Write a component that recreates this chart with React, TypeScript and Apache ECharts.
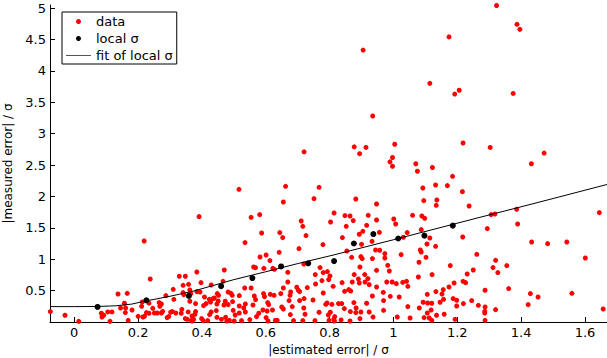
import React, { useEffect, useRef } from "react";
import * as echarts from "echarts";

const xMin = -0.076;
const xMax = 1.669;
const yMin = 0;
const yMax = 5.048;

const xTickStep = 0.2;
const yTickStep = 0.5;

const legendNames = ["data", "local σ", "fit of local σ"];
const xAxisTitle = "|estimated error| / σ";
const yAxisTitle = "|measured error| / σ";

// red scatter: [|estimated error|/σ, |measured error|/σ]
const dataPoints: [number, number][] = [
  [0.72, 2.71], [0.905, 4.33], [1.323, 5.04], [1.387, 4.74], [1.396, 4.66], [1.174, 4.54],
  [1.114, 3.8], [1.206, 3.69], [1.192, 3.63], [1.375, 3.64], [0.935, 3.28], [0.877, 2.79],
  [0.914, 2.78], [0.894, 2.68], [1.004, 2.83], [0.997, 2.62], [0.989, 2.55], [0.997, 2.48],
  [1.07, 2.52], [1.075, 2.4], [1.122, 2.46], [1.185, 2.32], [1.218, 2.85], [1.303, 2.78],
  [1.432, 2.52], [1.472, 2.69],
  [0.219, 1.29], [0.238, 0.685], [0.137, 0.446], [0.166, 0.457], [-0.075, 0.166], [-0.029, 0.107],
  [0.014, 0.01], [0.085, 0.139], [0.092, 0.107], [0.087, 0.08], [0.105, 0.16], [0.118, 0.16],
  [0.112, 0.01], [0.145, 0.223], [0.157, 0.298], [0.161, 0.223], [0.16, 0.15], [0.181, 0.191],
  [0.169, 0.027], [0.2, 0.09], [0.211, 0.25], [0.213, 0.318], [0.215, 0.08], [0.22, 0.09],
  [0.226, 0.15], [0.234, 0.3], [0.234, 0.139], [0.246, 0.218], [0.251, 0.143], [0.26, 0.143],
  [0.266, 0.309], [0.268, 0.25], [0.273, 0.287], [0.277, 0.17], [0.273, 0.143], [0.287, 0.42],
  [0.291, 0.07], [0.296, 0.086], [0.302, 0.155], [0.307, 0.166], [0.31, 0.52], [0.312, 0.361],
  [0.318, 0.143], [0.329, 0.728], [0.348, 0.728], [0.341, 0.584], [0.341, 0.468], [0.343, 0.436],
  [0.337, 0.202], [0.335, 0.139], [0.348, 0.054], [0.354, 0.043], [0.358, 0.6], [0.362, 0.51],
  [0.362, 0.33], [0.357, 0.16], [0.369, 0.096], [0.369, 0.016],
  [0.516, 2.113], [0.662, 2.161], [0.767, 2.145], [0.751, 1.965], [0.655, 1.911], [0.391, 1.678],
  [0.554, 1.667], [0.581, 1.71], [0.711, 1.608], [0.716, 1.524], [0.803, 1.592], [0.814, 1.736],
  [0.726, 1.376], [0.587, 1.417], [0.644, 1.424], [0.653, 1.344], [0.535, 1.264], [0.704, 1.169],
  [0.779, 1.233], [0.642, 1.11], [0.582, 1.035], [0.601, 1.067], [0.613, 0.978], [0.562, 0.876],
  [0.568, 0.866], [0.594, 0.855], [0.622, 0.855], [0.627, 0.839], [0.47, 0.828], [0.384, 0.796],
  [0.466, 0.648], [0.397, 0.627], [0.429, 0.589], [0.669, 0.791], [0.719, 0.924], [0.77, 0.866],
  [0.78, 0.787], [0.793, 0.803], [0.755, 0.755], [0.801, 0.733], [0.776, 0.659], [0.797, 0.675],
  [0.756, 0.605], [0.811, 0.568], [0.669, 0.637], [0.655, 0.541], [0.697, 0.553], [0.702, 0.505],
  [0.706, 0.484], [0.73, 0.548], [0.678, 0.478], [0.647, 0.452], [0.78, 0.462], [0.792, 0.303],
  [0.788, 0.282], [0.807, 0.282], [0.748, 0.35], [0.72, 0.373], [0.706, 0.341], [0.673, 0.341],
  [0.719, 0.223], [0.683, 0.245], [0.65, 0.239], [0.655, 0.207], [0.677, 0.118], [0.687, 0.022],
  [0.63, 0.027], [0.636, 0.027], [0.607, 0.016], [0.601, 0.07], [0.591, 0.191], [0.604, 0.175],
  [0.606, 0.309], [0.609, 0.277], [0.596, 0.404], [0.593, 0.452], [0.614, 0.441], [0.626, 0.425],
  [0.564, 0.414], [0.568, 0.357], [0.56, 0.271], [0.536, 0.287], [0.531, 0.223], [0.536, 0.159],
  [0.517, 0.143], [0.504, 0.111], [0.501, 0.016], [0.55, 0.038], [0.534, 0.541], [0.554, 0.541],
  [0.517, 0.42], [0.495, 0.425], [0.482, 0.478], [0.491, 0.457], [0.496, 0.325], [0.473, 0.33],
  [0.469, 0.271], [0.482, 0.277], [0.498, 0.186], [0.474, 0.075], [0.478, 0.016], [0.461, 0.043],
  [0.447, 0.075], [0.429, 0.159], [0.424, 0.118], [0.445, 0.182], [0.447, 0.287], [0.451, 0.334],
  [0.427, 0.318], [0.423, 0.361], [0.413, 0.293], [0.405, 0.261], [0.439, 0.382], [0.452, 0.425],
  [0.448, 0.452], [0.435, 0.373], [0.38, 0.293], [0.38, 0.166], [0.378, 0.123], [0.374, 0.043],
  [0.399, 0.054], [0.404, 0.022], [0.367, 0.027], [0.418, 0.022], [0.394, 0.478], [0.365, 0.452],
  [0.384, 0.484], [0.408, 0.398], [0.517, 0.255], [0.486, 0.027], [0.524, 0.022], [0.571, 0.086],
  [0.578, 0.139], [0.621, 0.191], [0.723, 0.123], [0.716, 0.022], [0.767, 0.155], [0.796, 0.111],
  [0.798, 0.027], [0.802, 0.155], [0.754, 0.022], [0.813, 0.043], [0.676, 0.425],
  [1.092, 2.134], [1.132, 2.182], [1.169, 2.172], [1.216, 2.076], [1.095, 1.933], [1.136, 1.943],
  [1.134, 1.858], [1.237, 1.847], [0.882, 1.959], [0.947, 1.879], [0.848, 1.694], [0.864, 1.688],
  [0.874, 1.615], [0.852, 1.524], [0.921, 1.699], [0.947, 1.624], [1.001, 1.64], [1.06, 1.699],
  [1.089, 1.688], [1.098, 1.651], [1.007, 1.561], [0.916, 1.54], [0.904, 1.444], [0.893, 1.397],
  [0.84, 1.344], [0.956, 1.428], [1.043, 1.424], [1.031, 1.349], [1.087, 1.471], [1.114, 1.338],
  [1.217, 1.354], [1.105, 1.242], [1.132, 1.205], [0.9, 1.237], [0.933, 1.285], [0.854, 1.131],
  [0.944, 1.147], [0.957, 1.142], [0.973, 1.089], [1.024, 1.073], [1.084, 1.147], [1.087, 1.115],
  [1.102, 1.03], [1.08, 0.951], [1.178, 0.898], [1.25, 0.828], [0.869, 1.03], [0.898, 1.041],
  [0.902, 1.01], [0.934, 1.01], [0.973, 1.019], [0.982, 0.903], [0.987, 0.812], [0.895, 0.876],
  [0.877, 0.755], [0.89, 0.685], [0.91, 0.755], [0.92, 0.691], [0.947, 0.823], [0.839, 0.627],
  [0.871, 0.637], [0.893, 0.621], [0.911, 0.637], [0.924, 0.595], [0.947, 0.557], [0.979, 0.637],
  [0.996, 0.637], [1.009, 0.611], [1.029, 0.632], [1.041, 0.648], [1.045, 0.568], [1.121, 0.755],
  [1.078, 0.717], [1.19, 0.621], [1.218, 0.648], [1.226, 0.627], [1.231, 0.764], [1.174, 0.557],
  [1.156, 0.516], [1.152, 0.446], [1.133, 0.484], [1.106, 0.441], [0.847, 0.489], [0.86, 0.516],
  [0.866, 0.494], [0.934, 0.414], [0.968, 0.473], [0.99, 0.409], [1.018, 0.398], [0.969, 0.341],
  [0.828, 0.293], [0.846, 0.213], [0.865, 0.166], [0.882, 0.15], [0.898, 0.159], [0.924, 0.159],
  [0.936, 0.08], [0.969, 0.186], [1.045, 0.245], [1.081, 0.223], [1.093, 0.314], [1.107, 0.303],
  [1.12, 0.298], [1.118, 0.191], [1.106, 0.143], [1.135, 0.107], [1.146, 0.314], [1.157, 0.361],
  [1.159, 0.123], [1.187, 0.373], [1.198, 0.346], [1.219, 0.293], [1.245, 0.341], [1.198, 0.255],
  [1.193, 0.043], [1.112, 0.064], [1.12, 0.027], [1.096, 0.07], [1.052, 0.064], [1.012, 0.08],
  [0.895, 0.054], [0.864, 0.016], [0.836, 0.032], [0.815, 0.016], [0.816, 0.086], [0.883, 0.223],
  [0.876, 0.309], [0.916, 0.298], [0.838, 0.293],
  [1.386, 1.795], [1.306, 1.71], [1.318, 1.72], [1.645, 1.742], [1.294, 1.487], [1.389, 1.561],
  [1.433, 1.274], [1.483, 1.248], [1.543, 1.274], [1.261, 1.078], [1.601, 1.019], [1.32, 0.982],
  [1.355, 0.898], [1.312, 0.866], [1.327, 0.787], [1.287, 0.505], [1.361, 0.532], [1.429, 0.452],
  [1.453, 0.398], [1.559, 0.457], [1.266, 0.266], [1.287, 0.239], [1.286, 0.17], [1.286, 0.143],
  [1.32, 0.197], [1.422, 0.277], [1.287, 0.027], [1.657, 0.207],
];

// black dots: local sigma
const localX = [0.073, 0.226, 0.359, 0.46, 0.558, 0.648, 0.733, 0.814, 0.876, 0.937, 1.015, 1.097, 1.186];
const localY = [0.24, 0.345, 0.415, 0.57, 0.7, 0.885, 0.935, 0.97, 1.25, 1.4, 1.33, 1.375, 1.535];

// black line: fit of local sigma
const fitX = [-0.076, 0, 0.07, 0.13, 0.18, 0.22, 0.3, 0.372, 0.5, 0.6, 0.7, 0.817, 1.0, 1.255, 1.45, 1.669];
const fitY = [0.245, 0.245, 0.247, 0.258, 0.285, 0.33, 0.41, 0.49, 0.675, 0.8, 0.93, 1.073, 1.31, 1.646, 1.9, 2.19];

const FONT = '"DejaVu Sans", sans-serif';

export default function App() {
  const ref = useRef<HTMLDivElement>(null);

  useEffect(() => {
    if (!ref.current) return;
    const chart = echarts.init(ref.current, null, { renderer: "svg" });
    const axisCommon = {
      type: "value" as const,
      splitLine: { show: false },
      axisLine: { show: true, onZero: false, lineStyle: { color: "#000", width: 1 } },
      axisTick: { show: true, inside: true, length: 5, lineStyle: { color: "#000", width: 1 } },
      nameLocation: "middle" as const,
      nameTextStyle: { color: "#000", fontSize: 12, fontFamily: FONT },
    };
    chart.setOption({
      animation: false,
      backgroundColor: "#fff",
      grid: { left: 50, right: 0, top: 5, bottom: 36, containLabel: false, outerBoundsMode: "none" },
      legend: {
        orient: "vertical",
        left: 62,
        top: 12,
        padding: [3, 4, 2, 4],
        itemGap: 4,
        itemWidth: 25,
        itemHeight: 5,
        borderColor: "#000",
        borderWidth: 1,
        backgroundColor: "#fff",
        textStyle: { color: "#000", fontSize: 13, fontFamily: FONT },
        data: [
          { name: legendNames[0], icon: "circle", itemStyle: { color: "#ff0000", opacity: 1 } },
          { name: legendNames[1], icon: "circle", itemStyle: { color: "#000", opacity: 1 } },
          {
            name: legendNames[2],
            icon: "path://M0,0H25V1H0Z",
            itemStyle: { color: "#555", opacity: 1 },
          },
        ],
      },
      xAxis: {
        ...axisCommon,
        min: xMin,
        max: xMax,
        minInterval: xTickStep,
        maxInterval: xTickStep,
        splitNumber: 8,
        name: xAxisTitle,
        nameGap: 20,
        axisLabel: {
          color: "#000",
          fontSize: 13,
          fontFamily: FONT,
          margin: 4,
          showMinLabel: false,
          showMaxLabel: false,
        },
      },
      yAxis: {
        ...axisCommon,
        min: yMin,
        max: yMax,
        minInterval: yTickStep,
        maxInterval: yTickStep,
        splitNumber: 10,
        name: yAxisTitle,
        nameGap: 30,
        axisLabel: {
          color: "#000",
          fontSize: 13,
          fontFamily: FONT,
          margin: 4,
          showMinLabel: false,
          showMaxLabel: false,
        },
      },
      series: [
        {
          name: legendNames[0],
          type: "scatter",
          symbol: "circle",
          symbolSize: 5,
          itemStyle: { color: "#ff0000", opacity: 1 },
          data: dataPoints,
          z: 2,
        },
        {
          name: legendNames[1],
          type: "scatter",
          symbol: "circle",
          symbolSize: 6,
          itemStyle: { color: "#000", opacity: 1 },
          data: localX.map((x, i) => [x, localY[i]]),
          z: 3,
        },
        {
          name: legendNames[2],
          type: "line",
          symbol: "none",
          showSymbol: false,
          itemStyle: { color: "#000" },
          lineStyle: { color: "#000", width: 1 },
          data: fitX.map((x, i) => [x, fitY[i]]),
          z: 4,
        },
      ],
    });
    return () => chart.dispose();
  }, []);

  return (
    <div
      ref={ref}
      style={{ position: "absolute", left: 0, top: 0, width: 607, height: 358, background: "#fff" }}
    />
  );
}
